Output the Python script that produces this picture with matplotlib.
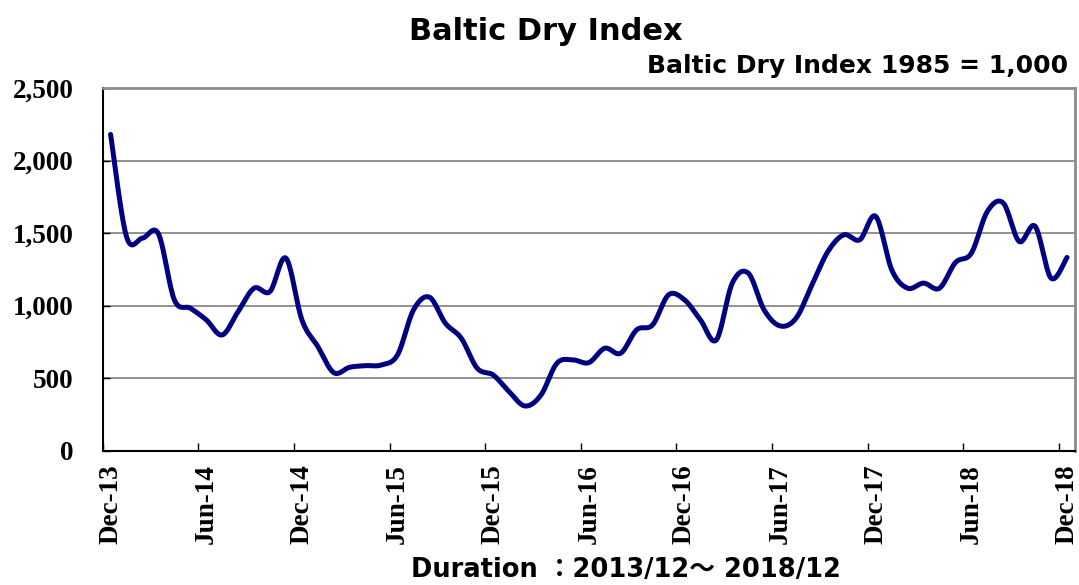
import numpy as np
import matplotlib.pyplot as plt
from matplotlib.ticker import FuncFormatter

# monthly Baltic Dry Index, Dec-2013 .. Dec-2018
months = ['Dec-13', 'Jan-14', 'Feb-14', 'Mar-14', 'Apr-14', 'May-14',
          'Jun-14', 'Jul-14', 'Aug-14', 'Sep-14', 'Oct-14', 'Nov-14',
          'Dec-14', 'Jan-15', 'Feb-15', 'Mar-15', 'Apr-15', 'May-15',
          'Jun-15', 'Jul-15', 'Aug-15', 'Sep-15', 'Oct-15', 'Nov-15',
          'Dec-15', 'Jan-16', 'Feb-16', 'Mar-16', 'Apr-16', 'May-16',
          'Jun-16', 'Jul-16', 'Aug-16', 'Sep-16', 'Oct-16', 'Nov-16',
          'Dec-16', 'Jan-17', 'Feb-17', 'Mar-17', 'Apr-17', 'May-17',
          'Jun-17', 'Jul-17', 'Aug-17', 'Sep-17', 'Oct-17', 'Nov-17',
          'Dec-17', 'Jan-18', 'Feb-18', 'Mar-18', 'Apr-18', 'May-18',
          'Jun-18', 'Jul-18', 'Aug-18', 'Sep-18', 'Oct-18', 'Nov-18',
          'Dec-18']
bdi = [2180, 1475, 1465, 1495, 1040, 982, 902, 798, 959, 1120, 1097, 1327,
       902, 718, 538, 575, 586, 591, 660, 970, 1058, 879, 775, 568,
       522, 407, 308, 384, 603, 626, 607, 706, 672, 833, 867, 1074,
       1040, 902, 764, 1155, 1224, 970, 860, 913, 1143, 1373, 1488, 1454,
       1615, 1247, 1120, 1155, 1120, 1297, 1362, 1649, 1707, 1442, 1546, 1189,
       1332]
label_step = 6


def smooth(x, y, n=20):
    # Excel-style smoothed line: cubic Bezier segments through every point
    x = np.asarray(x, float)
    y = np.asarray(y, float)
    px = np.concatenate([[x[0]], x, [x[-1]]])
    py = np.concatenate([[y[0]], y, [y[-1]]])
    t = np.linspace(0, 1, n)[:, None]
    xs, ys = [], []
    for i in range(len(x) - 1):
        p0 = np.array([px[i + 1], py[i + 1]])
        p3 = np.array([px[i + 2], py[i + 2]])
        c1 = p0 + (p3 - np.array([px[i], py[i]])) / 6
        c2 = p3 - (np.array([px[i + 3], py[i + 3]]) - p0) / 6
        b = ((1 - t) ** 3) * p0 + 3 * ((1 - t) ** 2) * t * c1 + 3 * (1 - t) * t ** 2 * c2 + t ** 3 * p3
        xs.append(b[:, 0])
        ys.append(b[:, 1])
    return np.concatenate(xs), np.concatenate(ys)


fig = plt.figure(figsize=(10.79, 5.85), dpi=100)
ax = fig.add_axes([0.0951, 0.2296, 0.9012, 0.62])

pos = np.arange(len(bdi))
sx, sy = smooth(pos, bdi)
ax.plot(sx, sy, color='#000080', lw=3.6, solid_capstyle='round', zorder=3)

ax.set_xlim(-0.5, len(bdi) - 0.5)
ax.set_ylim(0, 2500)
ax.set_yticks(np.arange(0, 2501, 500))
ax.yaxis.set_major_formatter(FuncFormatter(lambda v, p: f'{int(v):,}'))
ax.grid(axis='y', color='#7f7f7f', lw=1.2)
ax.set_axisbelow(True)

# labels at category centres, tick marks on category boundaries
lab_pos = pos[::label_step]
ax.set_xticks(lab_pos)
ax.set_xticklabels([months[i] for i in lab_pos], rotation=90)
ax.set_xticks(lab_pos - 0.5, minor=True)
ax.tick_params(axis='x', which='major', length=0, pad=10)
ax.tick_params(axis='x', which='minor', direction='in', length=6, width=1)
ax.tick_params(axis='y', direction='in', length=5, width=1, pad=21)

for lab in ax.get_xticklabels() + ax.get_yticklabels():
    lab.set_fontfamily('Liberation Serif')
    lab.set_fontweight('bold')
    lab.set_fontsize(19.5)
for lab in ax.get_yticklabels():
    lab.set_horizontalalignment('right')

for s in ['left', 'bottom']:
    ax.spines[s].set_color('black')
    ax.spines[s].set_linewidth(1.5)
for s in ['top', 'right']:
    ax.spines[s].set_color('#8c8c8c')
    ax.spines[s].set_linewidth(2)

fig.text(0.506, 0.946, 'Baltic Dry Index', ha='center', va='center',
         fontsize=22, fontweight='bold', family='DejaVu Sans')
fig.text(0.99, 0.887, 'Baltic Dry Index 1985 = 1,000', ha='right', va='center',
         fontsize=18, fontweight='bold', family='DejaVu Sans')
fig.text(0.58, 0.026, 'Duration ：2013/12～ 2018/12', ha='center', va='center',
         fontsize=18.5, fontweight='bold', family=['DejaVu Sans', 'Noto Sans CJK JP'])

fig.savefig('out.png', dpi=100)
